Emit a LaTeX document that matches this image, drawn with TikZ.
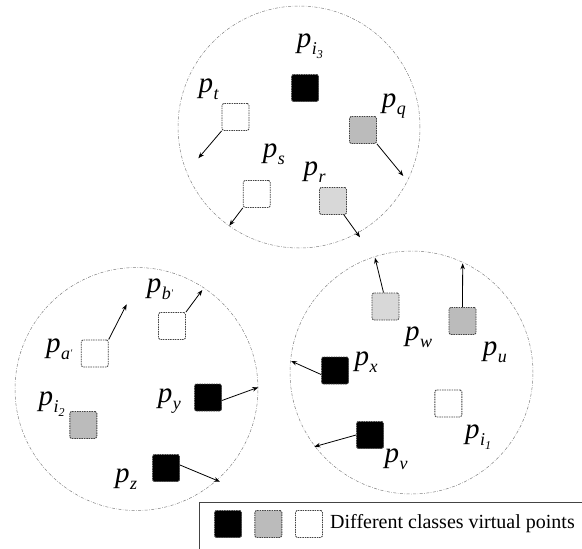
\documentclass[tikz,border=0pt]{standalone}
\usepackage{fontspec}
\setmainfont{Liberation Serif}
\usetikzlibrary{arrows.meta}
\newcommand\plab[1]{\fontsize{29}{29}\selectfont\textit{p}\kern0.5pt\raisebox{-7pt}{\fontsize{18}{18}\selectfont\textit{#1}}}
\newcommand\subsub[1]{\raisebox{-4pt}{\fontsize{12}{12}\selectfont #1}}
\newcommand\prm{\raisebox{3pt}{\fontsize{10}{10}\selectfont\textquotesingle}}
\definecolor{midgray}{HTML}{BBBBBB}
\definecolor{lightgray2}{HTML}{D8D8D8}
\definecolor{bordergray}{HTML}{444444}
\tikzset{
  region/.style={draw=gray, line width=0.5pt, dash pattern=on 3pt off 1.5pt on 0.6pt off 1.5pt},
  vpt/.style={draw=bordergray, line width=0.9pt, dash pattern=on 1.5pt off 0.9pt, rounded corners=1.5pt, minimum size=27pt, inner sep=0pt},
  cblack/.style={vpt, fill=black},
  cmid/.style={vpt, fill=midgray},
  clight/.style={vpt, fill=lightgray2},
  cwhite/.style={vpt, fill=white},
  lbl/.style={anchor=base west, inner sep=0pt},
  mv/.style={-{Stealth[length=6pt,width=4.5pt]}, line width=0.8pt},
}
\begin{document}
\begin{tikzpicture}[x=1pt,y=-1pt]
\useasboundingbox (0,0) rectangle (582,549);
% regions
\node[region, circle, minimum size=242pt, inner sep=0pt] (c3) at (299,127) {};
\node[region, circle, minimum size=243pt, inner sep=0pt] (c2) at (136.5,389) {};
\node[region, circle, minimum size=243pt, inner sep=0pt] (c1) at (411.5,372.5) {};
% top cluster
\node[cblack] (pi3) at (305,88) {};
\node[cwhite] (pt) at (235.5,117) {};
\node[cmid] (pq) at (363,130) {};
\node[cwhite] (ps) at (256.7,194) {};
\node[clight] (pr) at (333,201) {};
\node[lbl] (lpi3) at (296.7,47) {\plab{i\subsub{3}}};
\node[lbl] (lpt) at (198.3,92) {\plab{t}};
\node[lbl] (lpq) at (381.7,107) {\plab{q}};
\node[lbl] (lps) at (262.7,157) {\plab{s}};
\node[lbl] (lpr) at (303.3,175) {\plab{r}};
\coordinate (tpt) at (198.3,158.3);
\coordinate (tpq) at (403.3,176);
\coordinate (tps) at (229.3,225.7);
\coordinate (tpr) at (360,237.3);
\draw[mv] (pt.south west) -- (tpt);
\draw[mv] (pq.south east) -- (tpq);
\draw[mv] (ps.south west) -- (tps);
\draw[mv] ([xshift=-3pt]pr.south east) -- (tpr);
% bottom-left cluster
\node[cwhite] (pa) at (94.7,353.5) {};
\node[cwhite] (pb) at (172,326) {};
\node[cmid] (pi2) at (83.3,425) {};
\node[cblack] (py) at (208,397.5) {};
\node[cblack] (pz) at (166,468) {};
\node[lbl] (lpa) at (46,352) {\plab{a\prm}};
\node[lbl] (lpb) at (146.7,292) {\plab{b\prm}};
\node[lbl] (lpi2) at (38.3,405) {\plab{i\subsub{2}}};
\node[lbl] (lpy) at (157.7,402) {\plab{y}};
\node[lbl] (lpz) at (115,482) {\plab{z}};
\coordinate (tpa) at (126.7,304.3);
\coordinate (tpb) at (202.3,290);
\coordinate (tpy) at (258.3,387.3);
\coordinate (tpz) at (220,481.7);
\draw[mv] (pa.north east) -- (tpa);
\draw[mv] (pb.north east) -- (tpb);
\draw[mv] ([yshift=-3pt]py.east) -- (tpy);
\draw[mv] ([yshift=3pt]pz.east) -- (tpz);
% bottom-right cluster
\node[clight] (pw) at (385.5,306.5) {};
\node[cmid] (pu) at (462.5,321) {};
\node[cblack] (px) at (335,370.5) {};
\node[cwhite] (pi1) at (448.3,403.5) {};
\node[cblack] (pv) at (370,435) {};
\node[lbl] (lpw) at (405,340) {\plab{w}};
\node[lbl] (lpu) at (482.7,355) {\plab{u}};
\node[lbl] (lpx) at (354.3,365) {\plab{x}};
\node[lbl] (lpi1) at (465,438.5) {\plab{i\subsub{1}}};
\node[lbl] (lpv) at (384.3,462) {\plab{v}};
\coordinate (tpw) at (375,257.7);
\coordinate (tpu) at (462.7,263.3);
\coordinate (tpx) at (291,361);
\coordinate (tpv) at (314.3,446.7);
\draw[mv] ([xshift=-2pt]pw.north) -- (tpw);
\draw[mv] (pu.north) -- (tpu);
\draw[mv] ([yshift=-4pt]px.west) -- (tpx);
\draw[mv] (pv.west) -- (tpv);
% legend
\coordinate (lgA) at (199,549);
\coordinate (lgB) at (199,502.3);
\coordinate (lgC) at (582,502.3);
\draw[line width=1pt, draw=bordergray] (lgA) -- (lgB) -- (lgC);
\node[cblack] (lg1) at (228,524) {};
\node[cmid] (lg2) at (268.3,524) {};
\node[cwhite] (lg3) at (309,524) {};
\node[anchor=west, inner sep=0pt, font=\fontsize{20}{20}\selectfont] (lgt) at (330,524) {Different classes virtual points};
\end{tikzpicture}
\end{document}
